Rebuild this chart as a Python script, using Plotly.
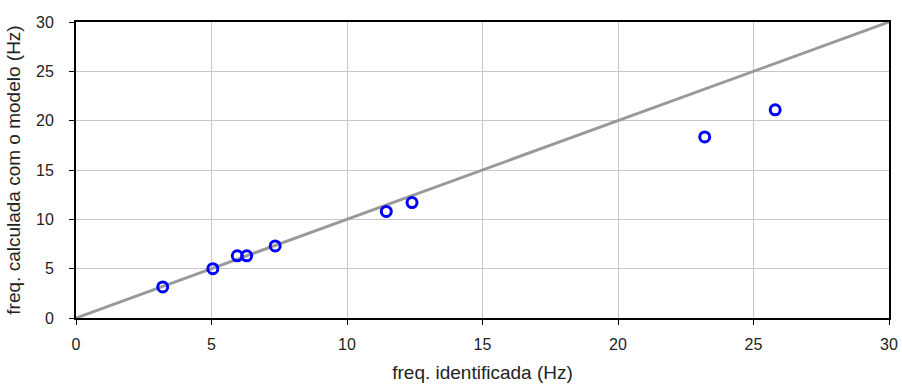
import plotly.graph_objects as go

freq_identificada = [3.2, 5.05, 5.95, 6.3, 7.35, 11.45, 12.4, 23.2, 25.8]
freq_modelo = [3.15, 5.0, 6.3, 6.3, 7.3, 10.8, 11.7, 18.35, 21.1]
ref_line = [0, 30]
ticks = [0, 5, 10, 15, 20, 25, 30]

fig = go.Figure()
fig.add_trace(go.Scatter(x=ref_line, y=ref_line, mode="lines",
                         line=dict(color="#999999", width=3), showlegend=False,
                         hoverinfo="skip"))
fig.add_trace(go.Scatter(x=freq_identificada, y=freq_modelo, mode="markers",
                         marker=dict(symbol="circle-open", size=10, color="#0000FF",
                                     line=dict(width=3, color="#0000FF")),
                         showlegend=False))

axis_common = dict(range=[0, 30], tickvals=ticks, showgrid=True, gridcolor="#C8C8C8",
                   gridwidth=1, showline=True, linecolor="black", linewidth=2,
                   mirror=True, ticks="outside", ticklen=5, tickcolor="black",
                   tickwidth=1, zeroline=False, automargin=False,
                   ticklabeloverflow="allow",
                   tickfont=dict(family="Liberation Sans, Arial", size=16, color="#222222"))

fig.update_layout(
    width=902, height=385,
    margin=dict(l=76, r=13, t=22, b=67),
    paper_bgcolor="white", plot_bgcolor="white",
    font=dict(family="Liberation Sans, Arial", color="#222222"),
    xaxis=dict(**axis_common, ticklabelstandoff=6,
               title=dict(text="freq. identificada (Hz)", font=dict(size=19), standoff=13)),
    yaxis=dict(**axis_common, ticklabelstandoff=12,
               title=dict(text="freq. calculada com o modelo (Hz)", font=dict(size=19), standoff=10)),
)
fig.write_html("out.html",
               config={"displayModeBar": False},
               post_script="document.body.style.margin='0';document.body.style.overflow='hidden';")
